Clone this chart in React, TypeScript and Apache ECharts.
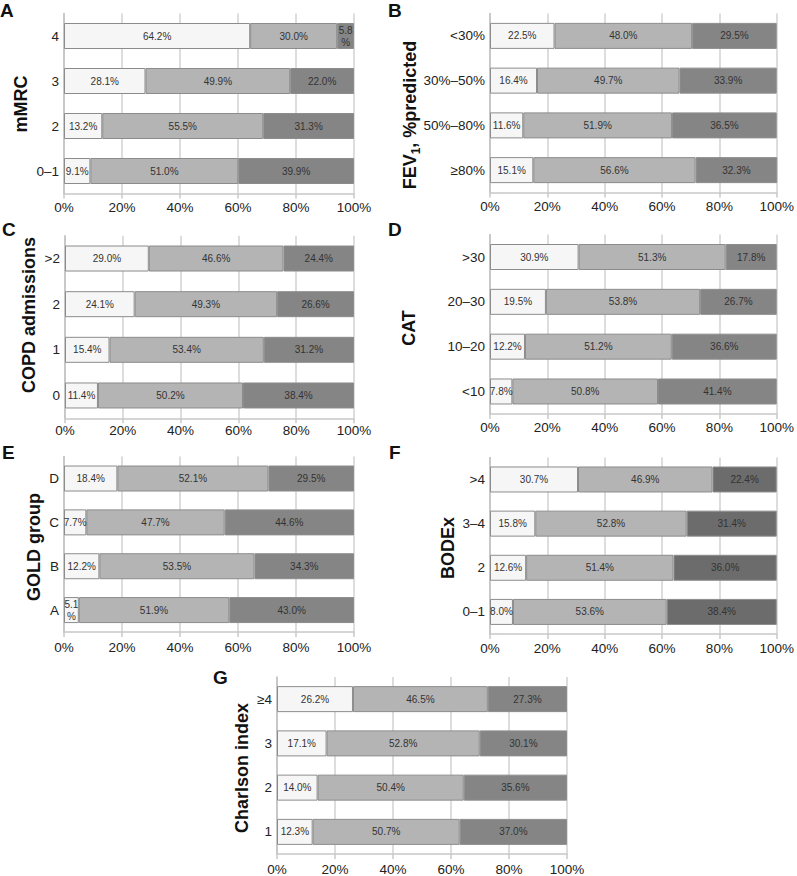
import React, { useEffect, useRef } from 'react';
import * as echarts from 'echarts';

const xTickValues = [0, 20, 40, 60, 80, 100];

const mmrcCats = ['0–1', '2', '3', '4'];
const mmrcLow = [9.1, 13.2, 28.1, 64.2];
const mmrcMid = [51.0, 55.5, 49.9, 30.0];
const mmrcHigh = [39.9, 31.3, 22.0, 5.8];

const fevCats = ['≥80%', '50%–80%', '30%–50%', '<30%'];
const fevLow = [15.1, 11.6, 16.4, 22.5];
const fevMid = [56.6, 51.9, 49.7, 48.0];
const fevHigh = [32.3, 36.5, 33.9, 29.5];

const copdCats = ['0', '1', '2', '>2'];
const copdLow = [11.4, 15.4, 24.1, 29.0];
const copdMid = [50.2, 53.4, 49.3, 46.6];
const copdHigh = [38.4, 31.2, 26.6, 24.4];

const catCats = ['<10', '10–20', '20–30', '>30'];
const catLow = [7.8, 12.2, 19.5, 30.9];
const catMid = [50.8, 51.2, 53.8, 51.3];
const catHigh = [41.4, 36.6, 26.7, 17.8];

const goldCats = ['A', 'B', 'C', 'D'];
const goldLow = [5.1, 12.2, 7.7, 18.4];
const goldMid = [51.9, 53.5, 47.7, 52.1];
const goldHigh = [43.0, 34.3, 44.6, 29.5];

const bodexCats = ['0–1', '2', '3–4', '>4'];
const bodexLow = [8.0, 12.6, 15.8, 30.7];
const bodexMid = [53.6, 51.4, 52.8, 46.9];
const bodexHigh = [38.4, 36.0, 31.4, 22.4];

const charlsonCats = ['1', '2', '3', '≥4'];
const charlsonLow = [12.3, 14.0, 17.1, 26.2];
const charlsonMid = [50.7, 50.4, 52.8, 46.5];
const charlsonHigh = [37.0, 35.6, 30.1, 27.3];

const panels = [
  { letter: 'A', title: 'mMRC', cats: mmrcCats, low: mmrcLow, mid: mmrcMid, high: mmrcHigh,
    grid: { left: 64, top: 13.5, width: 290, height: 180 }, lx: 0, ly: 1, tx: 21, ty: 104, dark: '#858585', lm: 7 },
  { letter: 'B', title: 'FEV', cats: fevCats, low: fevLow, mid: fevMid, high: fevHigh,
    grid: { left: 490, top: 13.5, width: 291, height: 179 }, lx: 388, ly: 1, tx: 410, ty: 115, dark: '#858585', lm: 7 },
  { letter: 'C', title: 'COPD admissions', cats: copdCats, low: copdLow, mid: copdMid, high: copdHigh,
    grid: { left: 65, top: 235.7, width: 289, height: 182.6 }, lx: 2, ly: 220, tx: 29, ty: 315, dark: '#858585', lm: 5 },
  { letter: 'D', title: 'CAT', cats: catCats, low: catLow, mid: catMid, high: catHigh,
    grid: { left: 490, top: 234.6, width: 291, height: 179.3 }, lx: 388, ly: 220, tx: 409, ty: 328, dark: '#858585', lm: 7 },
  { letter: 'E', title: 'GOLD group', cats: goldCats, low: goldLow, mid: goldMid, high: goldHigh,
    grid: { left: 64, top: 456.6, width: 290, height: 175.4 }, lx: 2, ly: 443, tx: 34, ty: 547, dark: '#858585', lm: 8 },
  { letter: 'F', title: 'BODEx', cats: bodexCats, low: bodexLow, mid: bodexMid, high: bodexHigh,
    grid: { left: 490, top: 457.4, width: 291, height: 176.6 }, lx: 389, ly: 443, tx: 448, ty: 548, dark: '#6c6c6c', lm: 7 },
  { letter: 'G', title: 'Charlson index', cats: charlsonCats, low: charlsonLow, mid: charlsonMid, high: charlsonHigh,
    grid: { left: 277, top: 677, width: 290, height: 178.8 }, lx: 213, ly: 668, tx: 242, ty: 768, dark: '#858585', lm: 8 },
];

const FONT = 'Liberation Sans, Arial, Helvetica, sans-serif';

function fmt(v: number) {
  return v < 6 ? `${v.toFixed(1)}\n%` : `${v.toFixed(1)}%`;
}

export default function App() {
  const ref = useRef<HTMLDivElement>(null);
  useEffect(() => {
    document.body.style.margin = '0';
    if (!ref.current) return;
    const chart = echarts.init(ref.current, null, { renderer: 'svg' });
    const grids: any[] = [];
    const xAxes: any[] = [];
    const yAxes: any[] = [];
    const series: any[] = [];
    const graphics: any[] = [];
    panels.forEach((p, i) => {
      grids.push({ ...p.grid });
      xAxes.push({
        type: 'value', gridIndex: i, min: 0, max: 100, interval: 20,
        axisLine: { show: true, lineStyle: { color: '#c8c8c8', width: 1.5 } },
        axisTick: { show: true, length: 5, lineStyle: { color: '#c8c8c8', width: 1.5 } },
        splitLine: { show: true, lineStyle: { color: '#d2d2d2', width: 1.5 } },
        axisLabel: {
          color: '#222', fontSize: 13.5, fontFamily: FONT, margin: p.lm,
          formatter: (v: number) => (xTickValues.includes(v) ? `${v}%` : ''),
        },
      });
      yAxes.push({
        type: 'category', gridIndex: i, data: p.cats,
        axisLine: { show: true, lineStyle: { color: '#c0c0c0', width: 1.5 } },
        axisTick: { show: false },
        axisLabel: { color: '#222', fontSize: 13.5, fontFamily: FONT, margin: 5 },
      });
      const segs = [
        { data: p.low, color: '#f6f6f6' },
        { data: p.mid, color: '#b4b4b4' },
        { data: p.high, color: p.dark },
      ];
      segs.forEach((s) => {
        series.push({
          type: 'bar', xAxisIndex: i, yAxisIndex: i, stack: 'p' + i,
          data: s.data, barWidth: 26,
          itemStyle: { color: s.color, borderColor: '#8c8c8c', borderWidth: 1 },
          label: {
            show: true, position: 'inside', color: '#333', fontSize: 10, fontFamily: FONT,
            lineHeight: 12,
            formatter: (d: any) => fmt(d.value),
          },
        });
      });
      graphics.push({
        type: 'text', left: p.lx, top: p.ly,
        style: { text: p.letter, fontSize: 19, fontWeight: 'bold', fontFamily: FONT, fill: '#111' },
      });
      if (p.title === 'FEV') {
        graphics.push({
          type: 'text', x: p.tx, y: p.ty, rotation: Math.PI / 2,
          style: {
            text: '{a|FEV}{b|1}{a|, %predicted}',
            align: 'center', verticalAlign: 'middle',
            rich: {
              a: { fontSize: 18, fontWeight: 'bold', fontFamily: FONT, fill: '#111', lineHeight: 24, verticalAlign: 'middle' },
              b: { fontSize: 12, fontWeight: 'bold', fontFamily: FONT, fill: '#111', lineHeight: 12, verticalAlign: 'bottom' },
            },
          },
        });
      } else {
        graphics.push({
          type: 'text', x: p.tx, y: p.ty, rotation: Math.PI / 2,
          style: {
            text: p.title, fontSize: 18, fontWeight: 'bold', fontFamily: FONT, fill: '#111',
            align: 'center', verticalAlign: 'middle',
          },
        });
      }
    });
    chart.setOption({
      animation: false,
      backgroundColor: '#fff',
      grid: grids,
      xAxis: xAxes,
      yAxis: yAxes,
      series,
      graphic: graphics,
    });
    return () => chart.dispose();
  }, []);
  return <div ref={ref} style={{ width: 797, height: 876 }} />;
}
